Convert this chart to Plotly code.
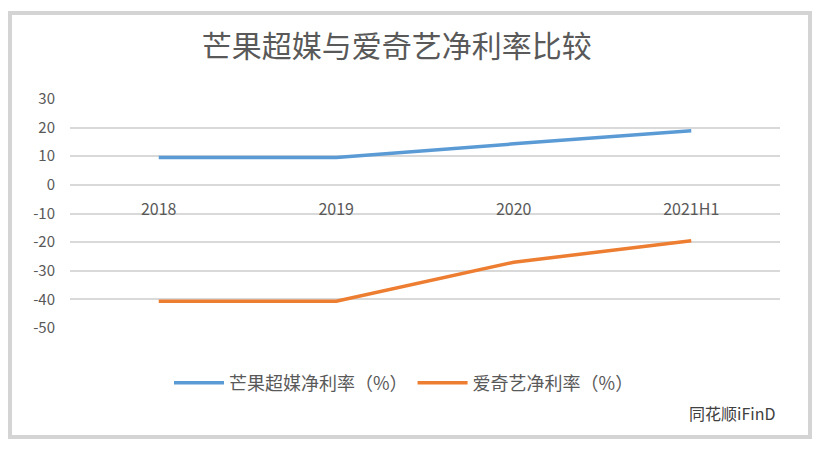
import plotly.graph_objects as go

categories = ["2018", "2019", "2020", "2021H1"]
mango_margin = [9.5, 9.5, 14.3, 18.9]
iqiyi_margin = [-40.6, -40.6, -27.0, -19.5]
series_names = ["芒果超媒净利率（%）", "爱奇艺净利率（%）"]
title_text = "芒果超媒与爱奇艺净利率比较"
y_ticks = [30, 20, 10, 0, -10, -20, -30, -40, -50]
y_tick_labels = ["30", "20", "10", "0", "-10", "-20", "-30", "-40", "-50"]

# page has an 8px body margin; work in page pixels and offset
OFF = 8
W, H = 820 - OFF, 451 - OFF
L, R, T, B = 70 - OFF, 40, 98 - OFF, 122
ymin, ymax = -50, 30
pw, ph = W - L - R, H - T - B

font_cjk = "Noto Sans CJK SC, Noto Sans, sans-serif"

fig = go.Figure()
fig.add_trace(go.Scatter(x=categories, y=mango_margin, mode="lines", name=series_names[0],
                         line=dict(color="#5B9BD5", width=3.5)))
fig.add_trace(go.Scatter(x=categories, y=iqiyi_margin, mode="lines", name=series_names[1],
                         line=dict(color="#ED7D31", width=3.5)))

zero_pos = (0 - ymin) / (ymax - ymin)

def px_x(p):
    return (p - OFF - L) / pw

def px_y(p):
    return (H - B - (p - OFF)) / ph

fig.update_layout(
    width=W, height=H,
    margin=dict(l=L, r=R, t=T, b=B, pad=0),
    paper_bgcolor="white", plot_bgcolor="white",
    title=dict(text=title_text, x=px_x(410), xanchor="center", y=1 - (46 - OFF) / H, yanchor="middle",
               font=dict(family=font_cjk, size=30, color="#595959")),
    font=dict(family=font_cjk, color="#595959"),
    xaxis=dict(type="category", range=[-0.5, 3.5], showgrid=False, zeroline=False, showline=False,
               anchor="free", position=zero_pos, ticks="", tickfont=dict(size=16, color="#595959"),
               ticklabelstandoff=13),
    yaxis=dict(range=[ymin - 0.3, ymax + 0.3], tickvals=y_ticks, ticktext=y_tick_labels,
               showgrid=True, gridcolor="#d9d9d9",
               gridwidth=1.5, zeroline=False, showline=False, ticks="",
               tickfont=dict(size=15, color="#595959"), ticklabelstandoff=14),
    showlegend=True,
    legend=dict(orientation="h", x=px_x(404), xanchor="center", y=px_y(383), yanchor="middle",
                font=dict(family=font_cjk, size=18, color="#595959"), itemwidth=50,
                bgcolor="rgba(0,0,0,0)"),
    annotations=[dict(text="同花顺iFinD", xref="paper", yref="paper", x=px_x(777), y=px_y(413),
                      xanchor="right", yanchor="middle", showarrow=False,
                      font=dict(family=font_cjk, size=16, color="#404040"))],
    shapes=[dict(type="rect", xref="paper", yref="paper", x0=px_x(10), x1=px_x(810),
                 y0=px_y(437), y1=px_y(13), line=dict(color="#d4d4d4", width=4), layer="below")],
)

fig.write_html("out.html")
